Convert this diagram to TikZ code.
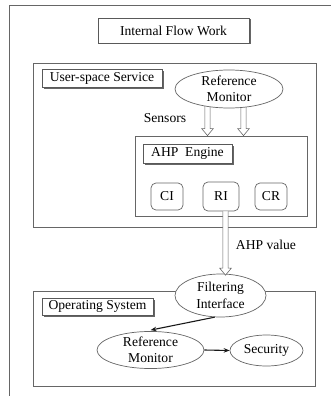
\documentclass[tikz,border=0pt]{standalone}
\usepackage{fontspec}
\setmainfont{Liberation Serif}
\usetikzlibrary{shapes.geometric,shadows,calc,arrows.meta,backgrounds}
\newcommand\hollowarr[2]{%
  \fill[white] let \p1=#1, \p2=#2 in (\x1-2.6pt,\y1) -- (\x1-2.6pt,\y2+7pt) -- (\x1-5.8pt,\y2+7pt) -- (\x1,\y2) -- (\x1+5.8pt,\y2+7pt) -- (\x1+2.6pt,\y2+7pt) -- (\x1+2.6pt,\y1) -- cycle;
  \draw[harrline] let \p1=#1, \p2=#2 in (\x1-2.6pt,\y1) -- (\x1-2.6pt,\y2+7pt) -- (\x1-5.8pt,\y2+7pt) -- (\x1,\y2) -- (\x1+5.8pt,\y2+7pt) -- (\x1+2.6pt,\y2+7pt) -- (\x1+2.6pt,\y1);}
\begin{document}
\begin{tikzpicture}[x=1pt,y=-1pt,
  font=\fontsize{13.6}{16.5}\selectfont,
  frame/.style={draw=black!60, line width=0.8pt},
  bigbox/.style={draw=black!60, line width=0.8pt, inner sep=0pt},
  lbl/.style={draw=black!65, fill=white, line width=0.7pt, inner sep=0pt,
    drop shadow={shadow xshift=1.5pt, shadow yshift=-1.5pt, fill=black!75, opacity=0.8}},
  rbox/.style={draw=black!60, line width=0.7pt, rounded corners=5pt, inner sep=0pt},
  ell/.style={ellipse, draw=black!60, fill=white, line width=0.7pt, inner sep=0pt, align=center},
  harrline/.style={draw=black!60, line width=0.6pt},
  conn/.style={draw=black!90, line width=1.1pt, -{Stealth[length=6pt,width=4.5pt]}}]
\path[use as bounding box] (0,0) rectangle (331,396);
\draw[frame] (9,396) -- (9,5) -- (332,5);
\node[lbl, minimum width=151, minimum height=25] (ifw) at (173.5,30.5) {Internal Flow Work};
\node[bigbox, minimum width=283, minimum height=164] (us) at (174.5,145) {};
\node[lbl, minimum width=120, minimum height=18] (usl) at (102,78) {User-space Service};
\node[ell, minimum width=108, minimum height=38] (rm1) at (229,89) {Reference\\Monitor};
\node (sens) at (165,118) {Sensors};
\node[bigbox, minimum width=172, minimum height=80] (ahp) at (221,176) {};
\node[lbl, minimum width=89, minimum height=19] (ahpl) at (187.5,153.5) {AHP\ \ Engine};
\node[rbox, minimum width=32, minimum height=27] (ci) at (167,196.5) {CI};
\node[rbox, minimum width=36, minimum height=29] (ri) at (221,196.5) {RI};
\node[rbox, minimum width=32, minimum height=27] (cr) at (271,196.5) {CR};
\node (ahpv) at (266,245) {AHP value};
\node[bigbox, minimum width=282, minimum height=95] (os) at (174,338.5) {};
\node[lbl, minimum width=111, minimum height=17] (osl) at (97.5,306.5) {Operating System};
\node[ell, minimum width=91, minimum height=43] (fi) at (220.5,295.5) {Filtering\\Interface};
\node[ell, minimum width=107, minimum height=34] (rm2) at (150.5,350) {Reference\\Monitor};
\node[ell, minimum width=73, minimum height=31] (sec) at (266.5,350.5) {Security};
\begin{scope}[on background layer]
  \hollowarr{([xshift=-21.5pt]rm1.center)}{([xshift=-13.5pt]ahp.north)}
  \hollowarr{([xshift=14.5pt]rm1.center)}{([xshift=22.5pt]ahp.north)}
\end{scope}
\hollowarr{([xshift=4.5pt]ri.south)}{([xshift=5pt,yshift=-1.5pt]fi.north)}
\draw[conn] (fi.255) -- ([yshift=1pt]rm2.north);
\draw[conn] (rm2.east) -- (sec.west);
\end{tikzpicture}
\end{document}
